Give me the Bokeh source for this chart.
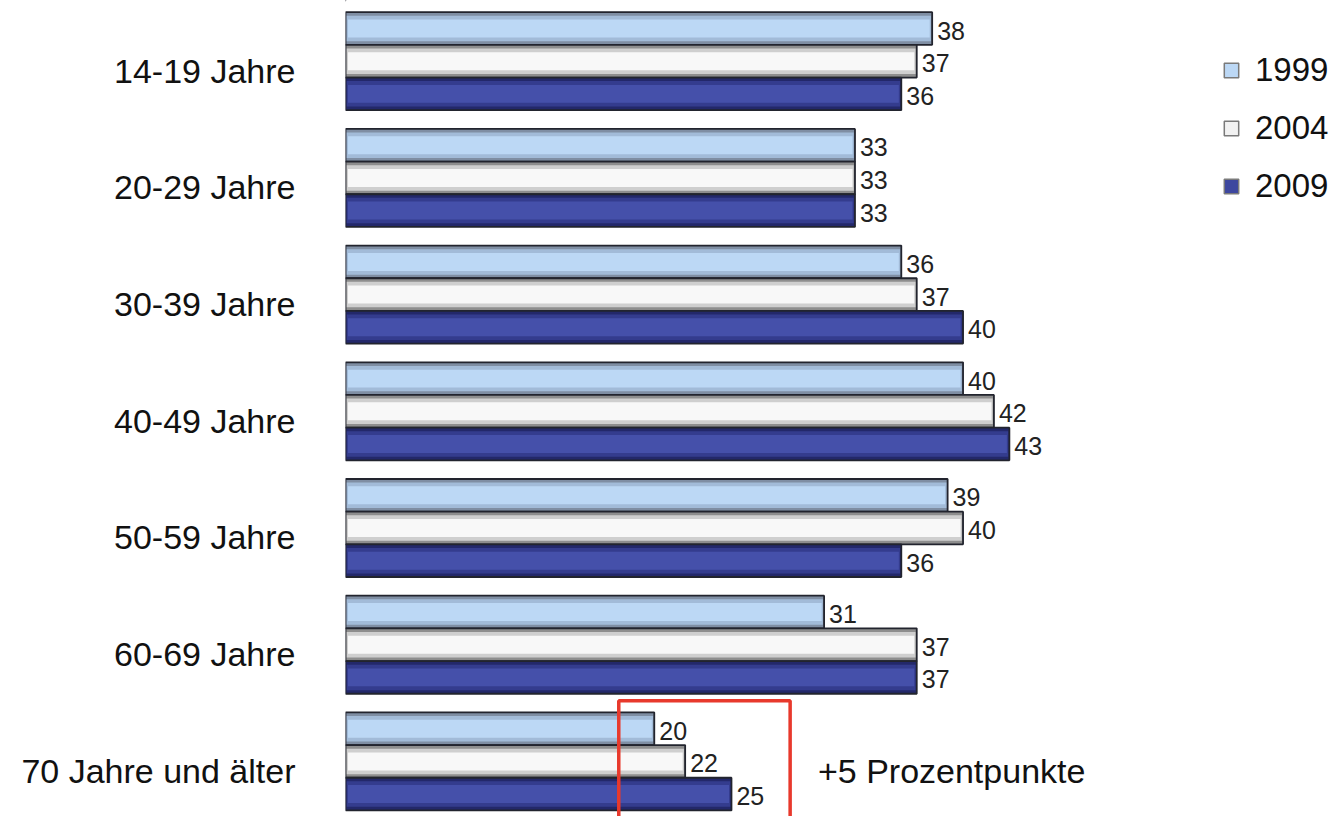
from bokeh.plotting import figure
from bokeh.models import Range1d, FixedTicker, Legend, LegendItem, ColumnDataSource, LabelSet, Label
from bokeh.core.properties import value
from bokeh.embed import file_html
from bokeh.resources import INLINE

groups = ["14-19 Jahre", "20-29 Jahre", "30-39 Jahre", "40-49 Jahre",
          "50-59 Jahre", "60-69 Jahre", "70 Jahre und älter"]
years = ["1999", "2004", "2009"]
v1999 = [38, 33, 36, 40, 39, 31, 20]
v2004 = [37, 33, 37, 42, 40, 37, 22]
v2009 = [36, 33, 40, 43, 36, 37, 25]
series = [v1999, v2004, v2009]

FONT = "Liberation Sans"
offsets = [-0.36, -0.08, 0.20]
bar_h = 0.28
edge_fill = ["#7f8ea3", "#8e8e8e", "#23286a"]
mid_fill = ["#a2bbd8", "#cfcfcf", "#343c8e"]
body_fill = ["#bcd8f5", "#f8f8f8", "#4550aa"]
legend_fill = ["#bcd8f5", "#f2f2f2", "#3d479f"]
line_col = "#22242e"

p = figure(width=1330, height=816, output_backend="svg", toolbar_location=None,
           x_range=Range1d(0, 63.80), y_range=Range1d(6.392, -0.600),
           min_border_left=345, min_border_right=0, min_border_top=0, min_border_bottom=0)
p.outline_line_color = None
p.xgrid.grid_line_color = None
p.ygrid.grid_line_color = None
p.xaxis.visible = False
p.background_fill_color = "white"

ya = p.yaxis[0]
ya.ticker = FixedTicker(ticks=list(range(len(groups))), minor_ticks=[])
ya.major_label_overrides = {i: g for i, g in enumerate(groups)}
ya.axis_line_color = None
ya.axis_line_alpha = 0
ya.major_tick_line_color = None
ya.major_tick_in = 0
ya.major_tick_out = 0
ya.minor_tick_line_color = None
ya.minor_tick_in = 0
ya.minor_tick_out = 0
ya.major_label_standoff = 50
ya.major_label_text_font = FONT
ya.major_label_text_font_size = "34px"
ya.major_label_text_color = "#111111"

for k, vals in enumerate(series):
    ys = [i + offsets[k] for i in range(len(groups))]
    src = ColumnDataSource(dict(y=ys, right=vals,
                                mid_right=[v - 0.08 for v in vals],
                                inner_right=[v - 0.16 for v in vals],
                                txt=[str(v) for v in vals]))
    p.hbar(y="y", right="right", left=0, height=bar_h, source=src,
           fill_color=edge_fill[k], line_color=line_col, line_width=1.8)
    p.hbar(y="y", right="mid_right", left=0.08, height=bar_h * 0.78, source=src,
           fill_color=mid_fill[k], line_color=None)
    p.hbar(y="y", right="inner_right", left=0.16, height=bar_h * 0.55, source=src,
           fill_color=body_fill[k], line_color=None)
    lbl = LabelSet(x="right", y="y", text="txt", source=src, x_offset=5, y_offset=-2,
                   text_baseline="middle", text_font=value(FONT), text_font_size=value("25px"),
                   text_color="#222222")
    p.add_layout(lbl)

# legend swatches (drawn outside the visible range)
proxies = []
for k in range(3):
    pr = p.hbar(y=[-100], right=[-100], left=-101, height=1,
                fill_color=legend_fill[k], line_color="#7a7a7a", line_width=1.5)
    proxies.append(pr)
legend = Legend(items=[LegendItem(label=years[k], renderers=[proxies[k]]) for k in range(3)],
                location=(877, 611), glyph_width=18, glyph_height=18,
                label_text_font=FONT, label_text_font_size="33px", label_text_color="#111111",
                label_height=30, spacing=20, padding=0, margin=0, label_standoff=15,
                border_line_alpha=0, background_fill_alpha=0)
p.add_layout(legend)

# highlight box around the 70+ group
last = len(groups) - 1
lo = min(v1999[last], v2004[last], v2009[last])
hi = max(v1999[last], v2004[last], v2009[last])
bx_left, bx_right, bx_top, bx_bottom = lo - 2.3, hi + 3.8, last - 0.60, last + 1.0
p.line(x=[bx_left, bx_left, bx_right, bx_right], y=[bx_bottom, bx_top, bx_top, bx_bottom],
       line_color="#e8392c", line_width=3.5)

p.add_layout(Label(x=hi + 5.6, y=last, text=f"+{v2009[last] - v1999[last]} Prozentpunkte",
                   text_baseline="middle", text_font=FONT, text_font_size="34px",
                   text_color="#111111"))

open("out.html", "w").write(file_html(p, INLINE))
